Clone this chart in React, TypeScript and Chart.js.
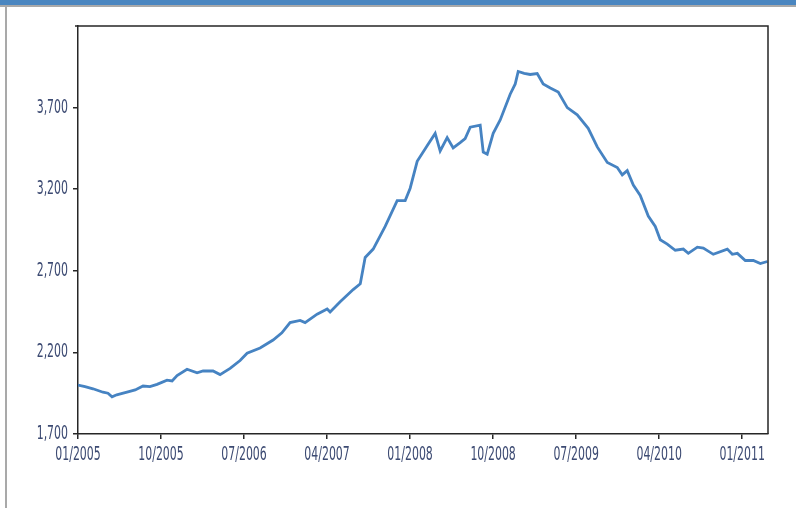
import React, { useEffect, useRef } from "react";
import { Chart, registerables } from "chart.js";

Chart.register(...registerables);

// Months since 01/2005 (fractional) for each reading
const months: number[] = [
  0.0, 0.76, 1.63, 2.71, 3.25, 3.69, 4.2, 5.31, 6.2, 7.05, 7.8, 8.57, 9.65, 10.2, 10.74,
  11.82, 12.91, 13.56, 14.64, 15.4, 16.49, 17.57, 18.33, 19.74, 21.15, 22.1, 22.99, 24.08,
  24.62, 25.92, 27.01, 27.33, 28.42, 29.83, 30.6, 31.13, 32.0, 33.3, 34.6, 35.47, 36.01,
  36.77, 37.85, 38.72, 39.26, 40.02, 40.67, 41.43, 41.97, 42.52, 43.6, 43.93, 44.36, 45.01,
  45.77, 46.85, 47.4, 47.72, 48.37, 49.02, 49.78, 50.43, 51.2, 52.06, 53.04, 54.12, 55.31,
  56.29, 57.38, 58.46, 59.0, 59.54, 60.2, 60.95, 61.82, 62.58, 63.12, 63.88, 64.75, 65.62,
  66.16, 67.14, 67.79, 68.87, 70.39, 70.93, 71.48, 72.34, 73.21, 73.97, 74.73,
];

const values: number[] = [
  2000, 1990, 1977, 1956, 1950, 1928, 1940, 1956, 1970, 1994, 1990, 2004, 2030, 2025, 2058,
  2097, 2075, 2086, 2086, 2064, 2102, 2150, 2195, 2227, 2276, 2320, 2383, 2396,
  2383, 2434, 2466, 2447, 2510, 2585, 2620, 2782, 2833, 2972, 3130, 3130, 3206,
  3371, 3466, 3542, 3434, 3516, 3453, 3485, 3510, 3580, 3592, 3428, 3415, 3542,
  3624, 3782, 3845, 3921, 3910, 3903, 3909, 3845, 3820, 3795, 3700, 3656, 3573,
  3459, 3364, 3333, 3288, 3314, 3225, 3162, 3035, 2972, 2890, 2864, 2826, 2833,
  2807, 2845, 2839, 2801, 2833, 2801, 2807, 2763, 2763, 2744, 2757,
];

const xTickMonths: number[] = [0, 9, 18, 27, 36, 45, 54, 63, 72];
const xTickLabels: string[] = [
  "01/2005", "10/2005", "07/2006", "04/2007", "01/2008", "10/2008", "07/2009", "04/2010", "01/2011",
];
const yTickValues: number[] = [1700, 2200, 2700, 3200, 3700];

const LABEL_FONT = "'DejaVu Sans Condensed', 'DejaVu Sans', sans-serif";
const LABEL_COLOR = "#3c4a72";
const AXIS_COLOR = "#262626";
const TEXT_SQUEEZE = 0.64;

// Draw the axis labels (rendered by Chart.js) horizontally condensed, like the reference.
const condensedTextPlugin = {
  id: "condensedText",
  beforeDraw(chart: any) {
    const ctx = chart.ctx;
    const orig = ctx.fillText;
    (chart as any)._origFillText = orig;
    ctx.fillText = function (text: string, x: number, y: number, maxWidth?: number) {
      ctx.save();
      ctx.translate(x, y);
      ctx.scale(TEXT_SQUEEZE, 1);
      if (maxWidth !== undefined) orig.call(ctx, text, 0, 0, maxWidth / TEXT_SQUEEZE);
      else orig.call(ctx, text, 0, 0);
      ctx.restore();
    };
  },
  beforeDatasetsDraw(chart: any) {
    if ((chart as any)._origFillText) {
      chart.ctx.fillText = (chart as any)._origFillText;
    }
  },
};

const framePlugin = {
  id: "frame",
  afterDatasetsDraw(chart: any) {
    const { ctx, chartArea } = chart;
    ctx.save();
    ctx.strokeStyle = AXIS_COLOR;
    ctx.lineWidth = 1.5;
    ctx.beginPath();
    ctx.moveTo(chartArea.left - 3, chartArea.top);
    ctx.lineTo(chartArea.right, chartArea.top);
    ctx.lineTo(chartArea.right, chartArea.bottom);
    ctx.stroke();
    ctx.restore();
  },
};

export default function App() {
  const canvasRef = useRef<HTMLCanvasElement | null>(null);

  useEffect(() => {
    if (!canvasRef.current) return;
    const chart = new Chart(canvasRef.current, {
      type: "line",
      data: {
        datasets: [
          {
            data: months.map((m, i) => ({ x: m, y: values[i] })),
            borderColor: "#4683c2",
            borderWidth: 2.8,
            pointRadius: 0,
            tension: 0,
            fill: false,
          },
        ],
      },
      options: {
        animation: false,
        responsive: false,
        layout: { padding: { top: 26, right: 28, left: 0, bottom: 0 } },
        plugins: { legend: { display: false }, tooltip: { enabled: false } },
        scales: {
          x: {
            type: "linear",
            min: 0,
            max: 74.8,
            afterBuildTicks: (scale: any) => {
              scale.ticks = xTickMonths.map((v) => ({ value: v }));
            },
            afterFit: (scale: any) => {
              scale.height = 74;
            },
            grid: {
              drawOnChartArea: false,
              drawTicks: true,
              tickLength: 5,
              color: AXIS_COLOR,
              lineWidth: 1.5,
            },
            border: { display: true, color: AXIS_COLOR, width: 1.5 },
            ticks: {
              autoSkip: false,
              maxRotation: 0,
              padding: 5,
              color: LABEL_COLOR,
              font: { family: LABEL_FONT, size: 19 },
              callback: (v: any) => {
                const i = xTickMonths.indexOf(Number(v));
                return i >= 0 ? xTickLabels[i] : "";
              },
            },
          },
          y: {
            type: "linear",
            min: 1700,
            max: 4200,
            afterBuildTicks: (scale: any) => {
              scale.ticks = yTickValues.map((v) => ({ value: v }));
            },
            afterFit: (scale: any) => {
              scale.width = 78;
            },
            grid: {
              drawOnChartArea: false,
              drawTicks: true,
              tickLength: 5,
              color: AXIS_COLOR,
              lineWidth: 1.5,
            },
            border: { display: true, color: AXIS_COLOR, width: 1.5 },
            ticks: {
              padding: 5,
              color: LABEL_COLOR,
              font: { family: LABEL_FONT, size: 19 },
              callback: (v: any) => Number(v).toLocaleString("en-US"),
            },
          },
        },
      },
      plugins: [condensedTextPlugin, framePlugin],
    });
    return () => chart.destroy();
  }, []);

  return (
    <div
      style={{
        position: "absolute",
        left: 0,
        top: 0,
        width: 796,
        height: 508,
        background: "#ffffff",
        overflow: "hidden",
      }}
    >
      <canvas
        ref={canvasRef}
        width={796}
        height={508}
        style={{ position: "absolute", left: 0, top: 0, width: 796, height: 508 }}
      />
      <div
        style={{
          position: "absolute",
          left: 0,
          top: 0,
          width: 796,
          height: 5,
          background: "#4a86c0",
          borderBottom: "2px solid #a9a9a9",
        }}
      />
      <div
        style={{
          position: "absolute",
          left: 5,
          top: 7,
          width: 2,
          height: 501,
          background: "#a9a9a9",
        }}
      />
    </div>
  );
}
